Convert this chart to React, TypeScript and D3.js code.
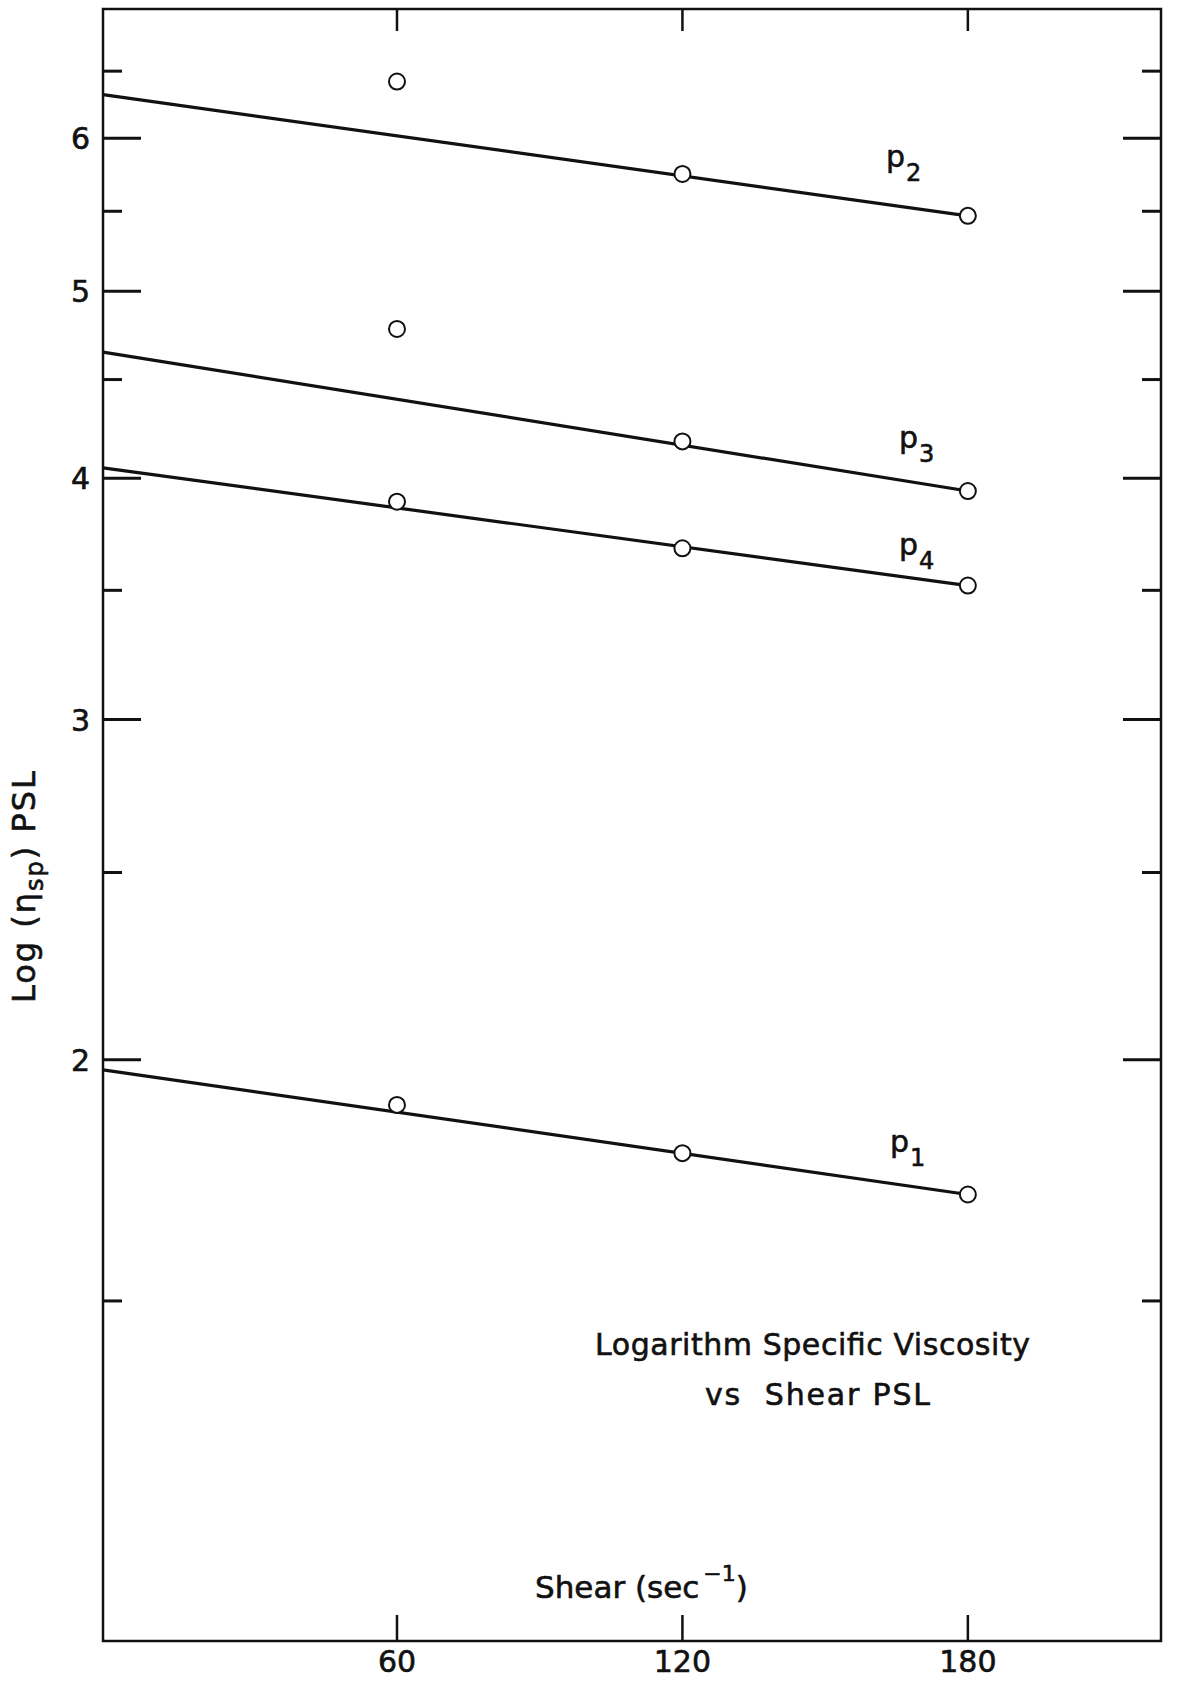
import React from "react";
import * as d3 from "d3";

// ---- data ----
const shearRates = [60, 120, 180];
const p1Obs = [1.895, 1.789, 1.703];
const p2Obs = [6.42, 5.75, 5.47];
const p3Obs = [4.78, 4.18, 3.94];
const p4Obs = [3.89, 3.68, 3.52];

const fitShear = [-1.8, 180];
const p1Fit = [1.976, 1.703];
const p2Fit = [6.32, 5.47];
const p3Fit = [4.65, 3.94];
const p4Fit = [4.05, 3.52];

const seriesSubs = ["1", "2", "3", "4"];
const xTicks = [60, 120, 180];
const majorYTicks = [2, 3, 4, 5, 6];
const minorYTicks = [1.5, 2.5, 3.5, 4.5, 5.5, 6.5];
const xDomain = [-1.8, 220.6];
const yDomain = [1, 7];

const titleLines = ["Logarithm Specific Viscosity", "vs  Shear PSL"];

// ---- layout ----
const W = 1177;
const H = 1682;
const L = 103, R = 1161, T = 9, B = 1641;
const FONT = "'DejaVu Sans', 'Liberation Sans', sans-serif";
const INK = "#111";

const labelPos = [
  { x: 890, top: 1136 },
  { x: 886, top: 151 },
  { x: 899, top: 432 },
  { x: 899, top: 539 },
];

export default function App() {
  const x = d3.scaleLinear().domain(xDomain).range([L, R]);
  const y = d3.scaleLog().domain(yDomain).range([B, T]);
  const line = d3
    .line<[number, number]>()
    .x((d) => x(d[0]))
    .y((d) => y(d[1]));

  const obs = [p1Obs, p2Obs, p3Obs, p4Obs];
  const fits = [p1Fit, p2Fit, p3Fit, p4Fit];

  const major = 38;
  const minor = 19;
  const textStroke = { stroke: INK, strokeWidth: 0.6 };

  return (
    <svg
      width={W}
      height={H}
      style={{ position: "absolute", left: 0, top: 0, background: "#fff" }}
      fontFamily={FONT}
    >
      <rect x={0} y={0} width={W} height={H} fill="#fff" />
      {/* frame */}
      <rect x={L} y={T} width={R - L} height={B - T} fill="none" stroke={INK} strokeWidth={2.5} />

      {/* y ticks left and right */}
      {majorYTicks.map((v) => (
        <g key={"mj" + v}>
          <line x1={L} x2={L + major} y1={y(v)} y2={y(v)} stroke={INK} strokeWidth={3} />
          <line x1={R - major} x2={R} y1={y(v)} y2={y(v)} stroke={INK} strokeWidth={3} />
          <text x={90} y={y(v) + 11} fontSize={30} textAnchor="end" fill={INK} {...textStroke}>
            {v}
          </text>
        </g>
      ))}
      {minorYTicks.map((v) => (
        <g key={"mn" + v}>
          <line x1={L} x2={L + minor} y1={y(v)} y2={y(v)} stroke={INK} strokeWidth={3} />
          <line x1={R - minor} x2={R} y1={y(v)} y2={y(v)} stroke={INK} strokeWidth={3} />
        </g>
      ))}

      {/* x ticks bottom and top */}
      {xTicks.map((v) => (
        <g key={"xt" + v}>
          <line x1={x(v)} x2={x(v)} y1={B} y2={B - 26} stroke={INK} strokeWidth={2.5} />
          <line x1={x(v)} x2={x(v)} y1={T} y2={T + 22} stroke={INK} strokeWidth={2.5} />
          <text x={x(v)} y={1672} fontSize={30} textAnchor="middle" fill={INK} {...textStroke}>
            {v}
          </text>
        </g>
      ))}

      {/* fitted lines */}
      {fits.map((f, i) => (
        <path
          key={"fit" + i}
          d={line(fitShear.map((s, j) => [s, f[j]]) as [number, number][]) || ""}
          fill="none"
          stroke={INK}
          strokeWidth={3.2}
        />
      ))}

      {/* observations */}
      {obs.map((o, i) =>
        o.map((v, j) => (
          <circle
            key={"c" + i + "-" + j}
            cx={x(shearRates[j])}
            cy={y(v)}
            r={8}
            fill="#fff"
            stroke={INK}
            strokeWidth={2}
          />
        ))
      )}

      {/* series labels */}
      {labelPos.map((p, i) => (
        <text key={"lab" + i} x={p.x} y={p.top + 16} fill={INK} fontSize={30} {...textStroke}>
          p
          <tspan dx={1} dy={14} fontSize={24}>
            {seriesSubs[i]}
          </tspan>
        </text>
      ))}

      {/* title */}
      <text x={595} y={1355} fontSize={30} textLength={435} lengthAdjust="spacing" fill={INK} {...textStroke}>
        {titleLines[0]}
      </text>
      <text x={705} y={1405} fontSize={30} textLength={225} lengthAdjust="spacing" fill={INK} xmlSpace="preserve" {...textStroke}>
        {titleLines[1]}
      </text>

      {/* x axis label */}
      <text x={535} y={1598} fontSize={31} fill={INK} {...textStroke}>
        Shear (sec
        <tspan dx={4} dy={-17} fontSize={22}>
          −1
        </tspan>
        <tspan dy={17}>)</tspan>
      </text>

      {/* y axis label */}
      <text
        transform={`translate(35, 1003) rotate(-90)`}
        x={0}
        y={0}
        fontSize={32}
        fill={INK}
        letterSpacing={2}
        {...textStroke}
      >
        Log (η
        <tspan dy={8} fontSize={24}>
          sp
        </tspan>
        <tspan dy={-8}>) PSL</tspan>
      </text>
    </svg>
  );
}
